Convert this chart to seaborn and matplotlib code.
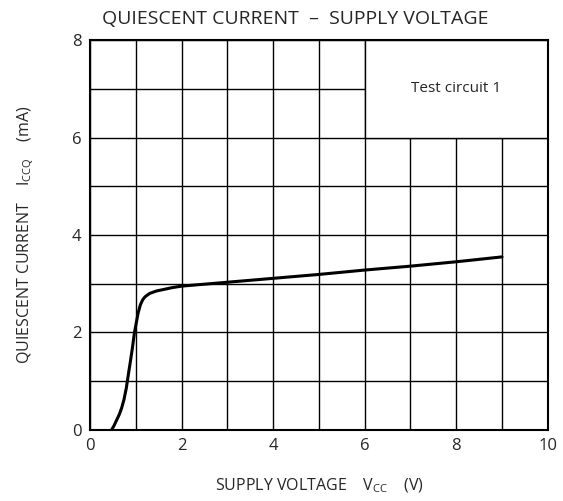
import numpy as np
import pandas as pd
import seaborn as sns
import matplotlib.pyplot as plt
from matplotlib.patches import Rectangle

# values
vcc = [0.47, 0.52, 0.58, 0.64, 0.69, 0.74, 0.79, 0.84, 0.88, 0.92, 0.97, 1.0,
       1.05, 1.1, 1.15, 1.2, 1.3, 1.45, 1.6, 1.8, 2.0, 3.0, 4.0, 5.0, 6.0,
       7.0, 8.0, 9.0]
iccq = [0.0, 0.08, 0.2, 0.32, 0.45, 0.62, 0.85, 1.16, 1.4, 1.65, 2.0, 2.15,
        2.4, 2.57, 2.67, 2.73, 2.8, 2.85, 2.88, 2.92, 2.95, 3.03, 3.11, 3.19,
        3.28, 3.36, 3.45, 3.55]
x_ticks = [0, 2, 4, 6, 8, 10]
y_ticks = [0, 2, 4, 6, 8]

df = pd.DataFrame({'vcc': vcc, 'iccq': iccq})

sns.set_style('white')
plt.rcParams['font.family'] = ['Open Sans', 'DejaVu Sans']

fig = plt.figure(figsize=(5.63, 5.01), dpi=100)
ax = fig.add_axes([0.160, 0.142, 0.813, 0.778])

sns.lineplot(data=df, x='vcc', y='iccq', ax=ax, color='black', linewidth=2.2,
             estimator=None, sort=False, zorder=3)

ax.set_xlim(0, 10)
ax.set_ylim(0, 8)
ax.set_xticks(x_ticks)
ax.set_yticks(y_ticks)
ax.set_xticks(np.arange(0, 11, 1), minor=True)
ax.set_yticks(np.arange(0, 9, 1), minor=True)
ax.set_axisbelow(True)
ax.grid(which='both', color='black', linewidth=1.0)

# blank box for the test-circuit note
ax.add_patch(Rectangle((6, 6), 4, 2, facecolor='white', edgecolor='black',
                       linewidth=1.0, zorder=1))
ax.text(8, 7, 'Test circuit 1', ha='center', va='center', fontsize=11, zorder=4)

for s in ax.spines.values():
    s.set_color('black')
    s.set_linewidth(1.5)
ax.tick_params(which='major', direction='out', length=4, width=1, color='black',
               labelsize=12, pad=2)
ax.tick_params(which='minor', length=0)

ax.set_xlabel(r'SUPPLY VOLTAGE    V$_{\mathregular{CC}}$    (V)', fontsize=11.5, labelpad=16)
ax.set_ylabel(r'QUIESCENT CURRENT    I$_{\mathregular{CCQ}}$    (mA)', fontsize=11.5,
              labelpad=26)
fig.text(0.525, 0.962, 'QUIESCENT CURRENT  –  SUPPLY VOLTAGE', ha='center', va='center',
         fontsize=14)

fig.savefig('out.png', dpi=100)
